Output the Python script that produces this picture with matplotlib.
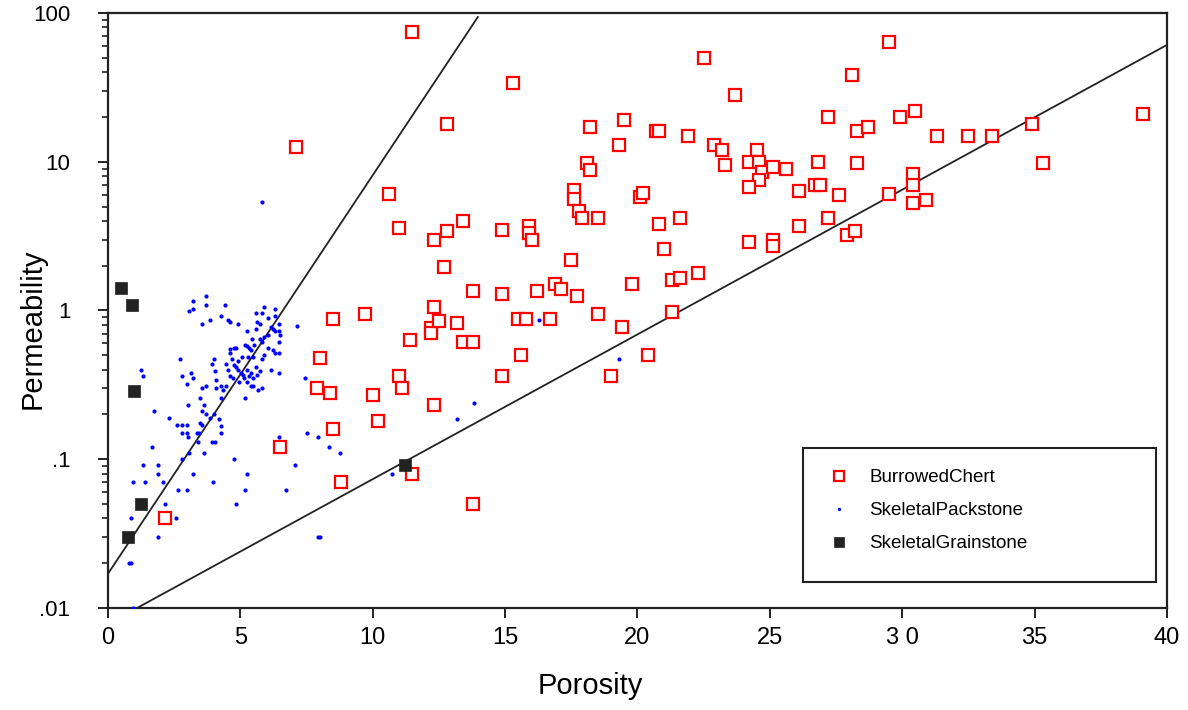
import matplotlib
matplotlib.use("Agg")
import matplotlib.pyplot as plt
import numpy as np
from matplotlib.patches import Rectangle
from matplotlib.ticker import FixedLocator, LogLocator, NullFormatter

# Burrowed Chert (porosity, permeability)
chert_phi = [11.5, 22.5, 15.3, 29.5, 23.7, 28.1, 7.1, 12.8, 19.5, 18.2, 20.7, 20.8,
             21.9, 19.3, 22.9, 23.2, 24.5, 27.2, 28.3, 28.7, 29.9, 30.5, 31.3, 32.5,
             33.4, 34.9, 39.1, 35.3, 29.5, 30.4, 30.4, 30.4, 30.9, 23.3, 24.2, 24.6,
             24.7, 24.6, 25.1, 25.6, 24.2, 26.8, 26.7, 26.9, 27.6, 28.3, 26.1, 27.2,
             26.1, 27.9, 28.2, 25.1, 25.1, 24.2, 22.3, 21.0, 20.1, 20.2, 20.8, 21.6,
             18.5, 17.6, 17.6, 18.1, 18.2, 17.8, 17.9, 15.9, 15.9, 16.0, 14.9, 13.4,
             12.8, 12.3, 12.7, 10.6, 11.0, 17.5, 16.9, 17.1, 17.7, 16.2, 14.9, 13.8,
             19.8, 21.3, 21.6, 21.3, 18.5, 16.7, 15.5, 15.8, 12.3, 8.5, 9.7, 12.2,
             12.2, 13.2, 12.5, 11.4, 13.4, 13.8, 19.4, 20.4, 15.6, 19.0, 14.9, 11.0,
             11.1, 8.0, 7.9, 8.4, 10.0, 10.2, 12.3, 8.5, 6.5, 8.8, 11.5, 13.8, 2.15]
chert_perm = [75, 50, 34, 64, 28, 38, 12.5, 18, 19, 17, 16, 16,
              15, 13, 13, 12, 12, 20, 16, 17, 20, 22, 15, 15,
              15, 18, 21, 9.8, 6.1, 8.3, 7.0, 5.3, 5.5, 9.5, 10, 10,
              8.5, 7.5, 9.2, 8.9, 6.8, 10, 7.0, 7.0, 6.0, 9.8, 6.4, 4.2,
              3.7, 3.2, 3.4, 3.0, 2.7, 2.9, 1.8, 2.6, 5.8, 6.2, 3.8, 4.2,
              4.2, 6.5, 5.6, 9.8, 8.8, 4.7, 4.2, 3.7, 3.3, 3.0, 3.5, 4.0,
              3.4, 3.0, 1.95, 6.1, 3.6, 2.2, 1.5, 1.4, 1.25, 1.35, 1.3, 1.35,
              1.5, 1.6, 1.65, 0.98, 0.95, 0.87, 0.88, 0.88, 1.05, 0.88, 0.95, 0.76,
              0.71, 0.83, 0.85, 0.63, 0.61, 0.61, 0.77, 0.50, 0.50, 0.36, 0.36, 0.36,
              0.30, 0.48, 0.30, 0.28, 0.27, 0.18, 0.23, 0.16, 0.12, 0.07, 0.08, 0.05, 0.04]

# Skeletal Packstone
pack_phi = [3.70, 3.21, 3.06, 3.21, 3.70, 4.42, 3.55, 3.85, 4.27, 4.53, 4.61, 4.91,
            5.25, 5.59, 5.82, 5.89, 6.04, 6.31, 5.63, 5.74, 5.59, 6.16, 6.23, 6.31,
            6.46, 6.46, 6.50, 7.14, 6.04, 5.89, 5.74, 5.82, 5.44, 5.51, 5.17, 5.25,
            5.33, 5.40, 6.04, 6.23, 6.46, 6.31, 5.89, 5.82, 5.48, 5.29, 5.06, 4.91,
            4.76, 4.61, 4.61, 4.83, 4.68, 4.46, 4.53, 4.76, 4.83, 4.91, 5.02, 5.10,
            5.25, 5.40, 5.59, 5.63, 5.74, 5.48, 5.33, 5.14, 5.25, 5.40, 5.48, 5.82,
            5.67, 5.17, 4.95, 4.72, 4.61, 4.46, 4.34, 4.27, 4.04, 3.93, 4.00, 4.08,
            4.08, 4.27, 3.70, 3.55, 3.47, 3.63, 3.55, 3.70, 3.85, 4.00, 4.19, 4.27,
            4.27, 3.47, 3.55, 3.44, 3.40, 3.02, 2.98, 3.13, 3.21, 2.80, 2.72, 2.61,
            2.80, 2.98, 2.80, 2.98, 3.02, 3.36, 3.93, 4.04, 3.63, 3.06, 2.80, 3.21,
            2.30, 1.74, 1.25, 1.32, 1.66, 1.32, 1.89, 1.89, 0.94, 1.40, 2.08, 2.64,
            2.98, 2.15, 1.32, 2.57, 0.87, 1.89, 0.79, 0.87, 0.94, 3.97, 4.76, 5.25,
            5.17, 4.83, 6.46, 7.06, 6.72, 7.52, 7.93, 7.93, 7.44, 6.46, 6.16, 6.46,
            6.31, 5.82, 16.28, 19.30, 13.82, 13.18, 8.35, 8.76, 10.73, 8.01]
pack_perm = [1.25, 1.16, 0.99, 1.02, 1.09, 1.09, 0.81, 0.86, 0.92, 0.86, 0.84, 0.81,
             0.73, 0.96, 0.96, 1.06, 0.89, 1.02, 0.84, 0.81, 0.75, 0.77, 0.75, 0.73,
             0.81, 0.73, 0.68, 0.79, 0.68, 0.66, 0.64, 0.61, 0.64, 0.59, 0.59, 0.58,
             0.56, 0.54, 0.56, 0.54, 0.52, 0.52, 0.50, 0.47, 0.49, 0.49, 0.49, 0.46,
             0.56, 0.55, 0.52, 0.56, 0.47, 0.44, 0.40, 0.43, 0.42, 0.40, 0.38, 0.37,
             0.40, 0.38, 0.42, 0.37, 0.39, 0.35, 0.36, 0.35, 0.33, 0.31, 0.31, 0.30,
             0.29, 0.26, 0.33, 0.35, 0.36, 0.31, 0.29, 0.26, 0.39, 0.44, 0.47, 0.34,
             0.30, 0.31, 0.31, 0.30, 0.26, 0.23, 0.21, 0.20, 0.19, 0.20, 0.185, 0.166,
             0.15, 0.174, 0.17, 0.15, 0.13, 0.23, 0.32, 0.38, 0.35, 0.36, 0.47, 0.17,
             0.17, 0.17, 0.15, 0.15, 0.142, 0.15, 0.13, 0.13, 0.11, 0.11, 0.10, 0.08,
             0.19, 0.21, 0.40, 0.36, 0.12, 0.091, 0.091, 0.08, 0.07, 0.07, 0.07, 0.062,
             0.062, 0.05, 0.05, 0.04, 0.04, 0.03, 0.02, 0.02, 0.01, 0.07, 0.10, 0.08,
             0.062, 0.05, 0.14, 0.091, 0.062, 0.15, 0.14, 0.03, 0.35, 0.38, 0.40, 0.61,
             0.92, 5.4, 0.86, 0.47, 0.24, 0.185, 0.12, 0.11, 0.08, 0.03]

# Skeletal Grainstone
grain_phi = [0.5, 0.9, 0.98, 1.25, 0.75, 11.2]
grain_perm = [1.42, 1.09, 0.286, 0.05, 0.03, 0.092]

# boundary lines (end points)
upper_line_phi = [0.0, 13.97]
upper_line_perm = [0.017, 94]
lower_line_phi = [1.1, 40.0]
lower_line_perm = [0.01, 61]

series_labels = ["BurrowedChert", "SkeletalPackstone", "SkeletalGrainstone"]
y_ticks = [0.01, 0.1, 1, 10, 100]
y_tick_labels = [".01", ".1", "1", "10", "100"]
x_ticks = [0, 5, 10, 15, 20, 25, 30, 35, 40]
x_tick_labels = ["0", "5", "10", "15", "20", "25", "3 0", "35", "40"]

plt.rcParams["font.family"] = ["Liberation Sans", "DejaVu Sans"]

fig = plt.figure(figsize=(11.88, 7.10), dpi=100)
ax = fig.add_axes([0.0909, 0.1437, 0.8914, 0.8380])

ax.plot(upper_line_phi, upper_line_perm, color="#222222", lw=1.3, zorder=2)
ax.plot(lower_line_phi, lower_line_perm, color="#222222", lw=1.3, zorder=2)

h1, = ax.plot(chert_phi, chert_perm, ls="none", marker="s", ms=8.2, mfc="white",
              mec="#ff0000", mew=1.6, zorder=3)
h2, = ax.plot(pack_phi, pack_perm, ls="none", marker="o", ms=3.0, mfc="#0000ff",
              mec="#0000ff", mew=0, zorder=4)
h3, = ax.plot(grain_phi, grain_perm, ls="none", marker="s", ms=9.0, mfc="#222222",
              mec="#222222", mew=0.5, zorder=5)

ax.set_yscale("log")
ax.set_xlim(0, 40)
ax.set_ylim(0.01, 100)
ax.yaxis.set_major_locator(FixedLocator(y_ticks))
ax.set_yticklabels(y_tick_labels)
ax.yaxis.set_minor_locator(LogLocator(base=10, subs=np.arange(2, 10)))
ax.yaxis.set_minor_formatter(NullFormatter())
ax.set_xticks(x_ticks)
ax.set_xticklabels(x_tick_labels)

ax.tick_params(axis="y", which="major", direction="out", length=7, width=1.4,
               labelsize=16, pad=20, colors="#222222", labelcolor="black")
ax.tick_params(axis="y", which="minor", direction="out", length=4, width=1.2,
               colors="#222222")
ax.tick_params(axis="x", which="major", direction="out", length=7, width=1.4,
               labelsize=17, pad=7, colors="#222222", labelcolor="black")
for side in ("left", "bottom", "right", "top"):
    ax.spines[side].set_linewidth(1.6)
    ax.spines[side].set_color("#222222")

ax.set_ylabel("Permeability", fontsize=21)
ax.yaxis.set_label_coords(-0.058, 0.47)
ax.set_xlabel("Porosity", fontsize=21)
ax.xaxis.set_label_coords(0.455, -0.108)

# legend frame
ax.add_patch(Rectangle((0.656, 0.044), 0.334, 0.225, transform=ax.transAxes,
                       fill=False, ec="#222222", lw=1.5, zorder=6))
leg = ax.legend([h1, h2, h3], series_labels, loc="upper left",
                bbox_to_anchor=(0.657, 0.262), frameon=False, handletextpad=0.6,
                labelspacing=0.85, markerscale=0.8,
                prop={"size": 13.5})
leg.set_zorder(7)

fig.savefig("out.png", dpi=100)
